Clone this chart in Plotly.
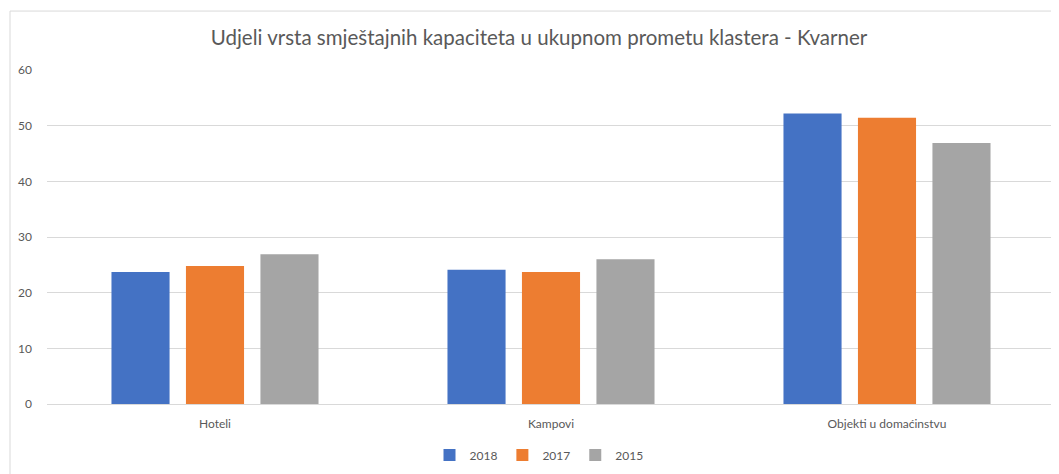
import plotly.graph_objects as go

categories = ["Hoteli", "Kampovi", "Objekti u domaćinstvu"]
years = ["2018", "2017", "2015"]
values_2018 = [23.7, 24.1, 52.2]
values_2017 = [24.8, 23.7, 51.4]
values_2015 = [26.9, 26.0, 46.9]
colors = ["#4472C4", "#ED7D31", "#A5A5A5"]
title_text = "Udjeli vrsta smještajnih kapaciteta u ukupnom prometu klastera - Kvarner"

OFF = 8  # page body margin
W, H = 1059 - OFF, 474 - OFF
ml, mr, mt, mb = 47 - OFF, 4, 70 - OFF, 64
pw = W - ml - mr
ph = H - mt - mb

fig = go.Figure()
for name, vals, c in zip(years, [values_2018, values_2017, values_2015], colors):
    fig.add_trace(go.Bar(x=categories, y=vals, name=name, marker=dict(color=c, line=dict(width=0))))

font = "Lato, 'Open Sans', sans-serif"
fig.update_layout(
    width=W, height=H,
    margin=dict(l=ml, r=mr, t=mt, b=mb),
    paper_bgcolor="white", plot_bgcolor="white",
    barmode="group", bargap=0.335, bargroupgap=0.22,
    font=dict(family=font, size=12, color="#595959"),
    title=dict(text=title_text, x=(539 - OFF) / W, xanchor="center", xref="container",
               y=1 - (38 - OFF) / H, yanchor="middle", yref="container",
               font=dict(family=font, size=20.5, color="#595959")),
    xaxis=dict(showgrid=False, showline=False, ticks="", ticklabelstandoff=11,
               tickfont=dict(size=12, color="#595959")),
    yaxis=dict(range=[0, 60], dtick=10, showgrid=True, gridcolor="#D9D9D9", gridwidth=1,
               zeroline=True, zerolinecolor="#D9D9D9", zerolinewidth=1,
               ticks="", ticklabelstandoff=14, tickfont=dict(size=12, color="#595959")),
    legend=dict(orientation="h", x=(539 - OFF - ml) / pw, xanchor="center",
                y=-52 / ph,
                yanchor="middle", font=dict(size=12, color="#595959"),
                itemwidth=30, tracegroupgap=0),
    showlegend=True,
)

fig.add_shape(type="rect", xref="paper", yref="paper",
              x0=(10 - OFF - ml) / pw, x1=(1090 - ml) / pw,
              y0=-(500 - (mt + ph)) / ph, y1=(mt + ph - (10 - OFF)) / ph,
              line=dict(color="#D9D9D9", width=1), fillcolor="rgba(0,0,0,0)", layer="below")

fig.write_html("out.html")
